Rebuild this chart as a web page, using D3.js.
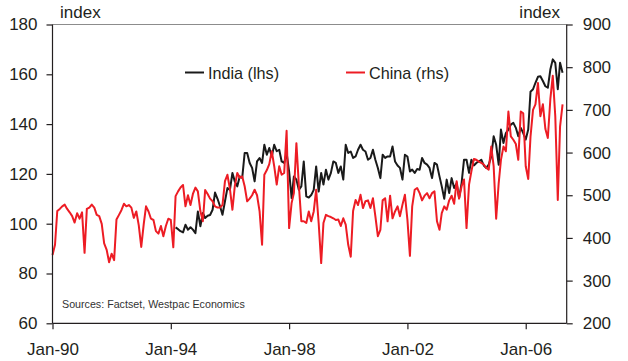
<!DOCTYPE html>
<html><head><meta charset="utf-8">
<script src="https://cdn.jsdelivr.net/npm/d3@7/dist/d3.min.js"></script>
<style>body{margin:0;background:#fff}svg{display:block;font-family:"Liberation Sans",Arial,sans-serif}</style>
</head><body><svg id="c" width="628" height="361"></svg>
<script>
// China monthly index (rhs), Jan-1990 onward
const chinaValues = [360,384,463,468,474,478,468,460,451,436,458,445,
460,365,468,471,478,471,454,451,433,387,372,343,
363,348,443,454,465,480,474,477,471,447,462,430,
379,433,474,462,445,442,416,410,428,404,428,445,
442,378,498,509,518,524,474,500,477,503,518,509,
463,439,512,503,492,486,474,471,471,477,533,548,
515,466,521,552,541,544,521,486,492,500,513,500,
463,384,548,559,573,603,568,525,568,548,552,651,
423,482,505,622,525,439,439,435,462,439,462,513,
435,341,435,454,451,449,446,442,443,428,446,431,
384,356,463,489,477,501,470,486,488,470,493,451,
404,419,488,493,439,499,446,462,474,451,478,501,
443,358,474,513,517,505,488,499,505,493,505,509,
439,419,458,474,466,488,499,480,533,492,521,537,
423,525,556,585,583,579,576,572,564,560,614,568,
445,528,583,614,603,696,638,630,620,583,696,692,
568,538,637,700,713,763,685,713,655,634,725,780,
685,489,661,713];
// India monthly index (lhs), starting Mar-1994
const indiaStart = 50;
const indiaValues = [98.5,97.8,97,96.5,99.6,97.6,98.6,97.6,96.2,104.9,
99,104.3,102.3,103.2,103.5,105.6,112.5,110,107,103.6,109,114.3,
113.6,120.4,117,115,119,118.4,128.4,128.4,124.4,122.4,117,125,
126.4,124.4,131.7,127.7,130.4,127,131.7,129.1,129.7,125,124.4,128.4,
121,110.3,119,117.7,113.6,115,125,111,110.5,111.5,113.6,123,
112.9,120.4,115.7,121.7,117.7,120.4,125,124.4,120.4,123,117.7,131.7,
128.4,129,126.4,127,129.7,131.7,129.7,129,125.7,126.4,129.7,125.7,
122.4,118.3,127.7,126.4,127,127,131,125,123.4,122.4,117.7,127.7,
127,121,121.7,120.4,122,121.7,126.4,124.4,123.7,122.4,118.3,124.4,
123.7,119,115,110,117.7,112.3,118.3,114.3,116.3,110.3,116.3,125.7,
125.7,120.4,125.7,123.4,124.4,125,125.7,123.4,122.4,123.7,127,135.1,
131.7,123.7,137.8,132.4,136.4,137.8,139.8,140.5,138.5,135.1,138.5,136.4,
133.8,137.8,153,154,156.6,159,159.2,157.3,155.2,154.6,161.9,166,
164.6,154,164.6,160.6];
const leftTicks = [60,80,100,120,140,160,180];
const rightTicks = [200,300,400,500,600,700,800,900];
const xTickYears = [1990,1994,1998,2002,2006];
const xTickLabels = ["Jan-90","Jan-94","Jan-98","Jan-02","Jan-06"];
const seriesNames = ["India (lhs)","China (rhs)"];

const svg = d3.select("#c");
const L=52.5, R=566.7, T=24.5, B=323.3;
const x = d3.scaleTime().domain([new Date(1990,0,1), new Date(2007,4,22)]).range([L,R]);
const yL = d3.scaleLinear().domain([60,180]).range([B,T]);
const yR = d3.scaleLinear().domain([200,900]).range([B,T]);
const md = m => new Date(1990, m, 1);
const txt = "#231f20";

// top border
svg.append("line").attr("x1",L).attr("x2",R).attr("y1",T).attr("y2",T).attr("stroke","#8c8c8c").attr("stroke-width",1.2);

const lineChina = d3.line().x((d,i)=>x(md(i))).y(d=>yR(d));
const lineIndia = d3.line().x((d,i)=>x(md(i+indiaStart))).y(d=>yL(d));
svg.append("path").datum(indiaValues).attr("d",lineIndia).attr("fill","none").attr("stroke","#1a1a1a").attr("stroke-width",2).attr("stroke-linejoin","round");
svg.append("path").datum(chinaValues).attr("d",lineChina).attr("fill","none").attr("stroke","#ed1c24").attr("stroke-width",2).attr("stroke-linejoin","round");

// axes
const axL = d3.axisLeft(yL).tickValues(leftTicks).tickSize(6).tickPadding(9);
const axR = d3.axisRight(yR).tickValues(rightTicks).tickSize(6).tickPadding(10);
const axB = d3.axisBottom(x).tickValues(xTickYears.map(y=>new Date(y,0,1))).tickFormat((d,i)=>xTickLabels[i]).tickSize(6).tickPadding(14);
function style(g){
  g.select(".domain").remove();
  g.selectAll(".tick line").attr("stroke","#231f20").attr("stroke-width",1.2);
  g.selectAll(".tick text").attr("fill",txt).style("font-size","17px").style("font-family","'Liberation Sans',Arial,sans-serif");
}
svg.append("g").attr("transform",`translate(${L},0)`).call(axL).call(style);
svg.append("g").attr("transform",`translate(${R},0)`).call(axR).call(style);
svg.append("g").attr("transform",`translate(0,${B})`).call(axB).call(style);
svg.append("line").attr("x1",L).attr("x2",L).attr("y1",T).attr("y2",B).attr("stroke","#231f20").attr("stroke-width",1.2);
svg.append("line").attr("x1",R).attr("x2",R).attr("y1",T).attr("y2",B).attr("stroke","#231f20").attr("stroke-width",1.2);
svg.append("line").attr("x1",L).attr("x2",R).attr("y1",B).attr("y2",B).attr("stroke","#231f20").attr("stroke-width",1.2);

// unit labels
svg.append("text").attr("x",60).attr("y",18).attr("fill",txt).style("font-size","17px").text("index");
svg.append("text").attr("x",560).attr("y",18).attr("text-anchor","end").attr("fill",txt).style("font-size","17px").text("index");

// legend
const leg = [{name:seriesNames[0],color:"#1a1a1a",x0:185},{name:seriesNames[1],color:"#ed1c24",x0:346}];
leg.forEach(l=>{
  svg.append("line").attr("x1",l.x0).attr("x2",l.x0+19).attr("y1",72.5).attr("y2",72.5).attr("stroke",l.color).attr("stroke-width",2);
  svg.append("text").attr("x",l.x0+23).attr("y",78.5).attr("fill",txt).style("font-size","16.2px").text(l.name);
});
svg.append("text").attr("x",62).attr("y",308).attr("fill","#333").style("font-size","10.7px").text("Sources: Factset, Westpac Economics");
</script></body></html>
